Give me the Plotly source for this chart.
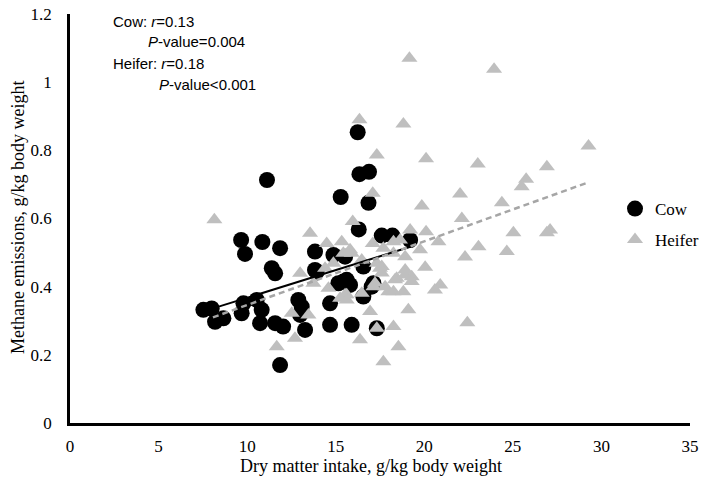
import plotly.graph_objects as go

# ---- data ----
cow_x = [11.12, 16.24, 16.34, 16.88, 15.28, 16.85, 16.30, 9.66, 10.86, 11.86,
         9.88, 13.83, 17.6, 18.2, 19.2, 11.39, 11.58, 7.53, 8.0, 8.19,
         8.66, 9.79, 9.69, 10.54, 10.82, 10.73, 11.58, 11.86, 12.89, 13.08,
         12.99, 13.27, 13.93, 14.68, 14.68, 15.9, 15.43, 15.81, 16.56, 17.32,
         14.87, 17.03, 15.53, 15.15, 16.56, 17.13, 12.03, 13.83, 15.62]
cow_y = [0.713, 0.853, 0.73, 0.737, 0.663, 0.646, 0.568, 0.537, 0.531, 0.513,
         0.496, 0.503, 0.55, 0.55, 0.537, 0.454, 0.439, 0.332, 0.336, 0.297,
         0.307, 0.351, 0.322, 0.361, 0.332, 0.293, 0.293, 0.17, 0.361, 0.341,
         0.317, 0.273, 0.444, 0.351, 0.288, 0.288, 0.415, 0.405, 0.371, 0.278,
         0.493, 0.40, 0.488, 0.41, 0.459, 0.41, 0.283, 0.449, 0.42]

heifer_x = [16.34, 17.32, 8.15, 17.09, 15.96, 13.55, 14.49, 15.34, 15.81, 17.09,
            19.16, 23.94, 18.82, 29.27, 20.1, 23.02, 26.92, 25.75, 25.5, 22.02,
            24.38, 19.86, 22.12, 25.03, 27.1, 26.92, 19.2, 20.1, 20.8, 23.06,
            24.66, 22.3, 19.76, 17.69, 18.63, 20.05, 20.9, 20.6, 22.43, 19.1,
            18.26, 16.37, 18.54, 17.69, 16.94, 17.32, 18.92, 19.29, 18.26, 17.97,
            18.82, 18.44, 17.6, 18.92, 18.26, 17.6, 17.22, 16.47, 15.9, 18.92,
            18.26, 17.32, 18.35, 17.13, 15.62, 14.87, 14.4, 12.99, 13.74, 14.59,
            15.53, 15.25, 12.52, 13.46, 12.7, 11.67, 15.62, 15.43, 16.47, 17.5,
            19.29, 17.79]
heifer_y = [0.89, 0.786, 0.596, 0.674, 0.591, 0.557, 0.527, 0.532, 0.508, 0.527,
            1.07, 1.038, 0.877, 0.813, 0.775, 0.76, 0.752, 0.715, 0.693, 0.672,
            0.646, 0.637, 0.60, 0.558, 0.566, 0.558, 0.566, 0.561, 0.532, 0.517,
            0.503, 0.487, 0.508, 0.513, 0.537, 0.457, 0.405, 0.39, 0.294, 0.332,
            0.283, 0.244, 0.224, 0.18, 0.327, 0.278, 0.434, 0.429, 0.385, 0.385,
            0.385, 0.425, 0.459, 0.488, 0.532, 0.44, 0.41, 0.381, 0.498, 0.449,
            0.498, 0.469, 0.42, 0.40, 0.376, 0.469, 0.454, 0.439, 0.41, 0.395,
            0.376, 0.366, 0.322, 0.317, 0.249, 0.224, 0.361, 0.498, 0.478, 0.454,
            0.415, 0.40]

cow_trend_x = [8.3, 19.4]
cow_trend_y = [0.34, 0.52]
heifer_trend_x = [8.07, 29.2]
heifer_trend_y = [0.31, 0.705]

x_ticks = [0, 5, 10, 15, 20, 25, 30, 35]
y_ticks = [0, 0.2, 0.4, 0.6, 0.8, 1.0, 1.2]
y_tick_labels = ["0", "0.2", "0.4", "0.6", "0.8", "1", "1.2"]

stats_lines = ["Cow: <i>r</i>=0.13", "<i>P</i>-value=0.004",
               "Heifer: <i>r</i>=0.18", "<i>P</i>-value<0.001"]

SERIF = "Liberation Serif, Times New Roman, serif"
SANS = "Liberation Sans, Arial, sans-serif"
W, H = 704, 483

fig = go.Figure()
fig.add_trace(go.Scatter(x=cow_x, y=cow_y, mode="markers", name="Cow",
                         marker=dict(symbol="circle", size=16, color="black"),
                         legend="legend"))
fig.add_trace(go.Scatter(x=heifer_x, y=heifer_y, mode="markers", name="Heifer",
                         marker=dict(symbol="triangle-up", size=14, color="#BFBFBF"),
                         legend="legend2"))
fig.add_trace(go.Scatter(x=cow_trend_x, y=cow_trend_y, mode="lines",
                         line=dict(color="black", width=2), showlegend=False))
fig.add_trace(go.Scatter(x=heifer_trend_x, y=heifer_trend_y, mode="lines",
                         line=dict(color="#A6A6A6", width=2.5, dash="6px,4px"),
                         showlegend=False))

ann = []
pos = [(111, 21), (146, 42), (111, 63), (157, 84)]
for txt, (px, py) in zip(stats_lines, pos):
    ann.append(dict(text=txt, xref="paper", yref="paper",
                    x=(px - 70) / 620, y=(423 - py) / 409,
                    xanchor="left", yanchor="middle", showarrow=False,
                    font=dict(family=SANS, size=15, color="black")))
# axis titles
ann.append(dict(text="Dry matter intake, g/kg body weight", xref="paper", yref="paper",
                x=(371 - 70) / 620, y=(423 - 466) / 409, xanchor="center", yanchor="middle",
                showarrow=False, font=dict(family=SERIF, size=18, color="black")))
ann.append(dict(text="Methane emissions, g/kg body weight", xref="paper", yref="paper",
                x=(18 - 70) / 620, y=(423 - 218) / 409, xanchor="center", yanchor="middle",
                textangle=-90, showarrow=False,
                font=dict(family=SERIF, size=18, color="black")))

fig.update_layout(
    width=W, height=H,
    margin=dict(l=70, r=14, t=14, b=60, autoexpand=False),
    plot_bgcolor="white", paper_bgcolor="white",
    annotations=ann,
    legend=dict(xref="container", yref="container",
                x=615 / W, y=1 - 209 / H, xanchor="left", yanchor="middle",
                font=dict(family=SERIF, size=17, color="black"),
                bgcolor="rgba(0,0,0,0)", itemwidth=30),
    legend2=dict(xref="container", yref="container",
                 x=615 / W, y=1 - 240 / H, xanchor="left", yanchor="middle",
                 font=dict(family=SERIF, size=17, color="black"),
                 bgcolor="rgba(0,0,0,0)", itemwidth=30),
)
fig.update_xaxes(range=[0, 35], tickvals=x_ticks, showgrid=False, zeroline=False,
                 showline=True, linecolor="black", linewidth=2.5, ticks="",
                 automargin=False, ticklabelstandoff=6,
                 tickfont=dict(family=SERIF, size=17, color="black"))
fig.update_yaxes(range=[0, 1.2], tickvals=y_ticks, ticktext=y_tick_labels,
                 showgrid=False, zeroline=False, automargin=False,
                 showline=True, linecolor="black", linewidth=2.5, ticks="",
                 ticklabelstandoff=12,
                 tickfont=dict(family=SERIF, size=17, color="black"))

fig.write_html("out.html", config={"displayModeBar": False},
               post_script="document.body.style.margin='0';document.body.style.overflow='hidden';")
